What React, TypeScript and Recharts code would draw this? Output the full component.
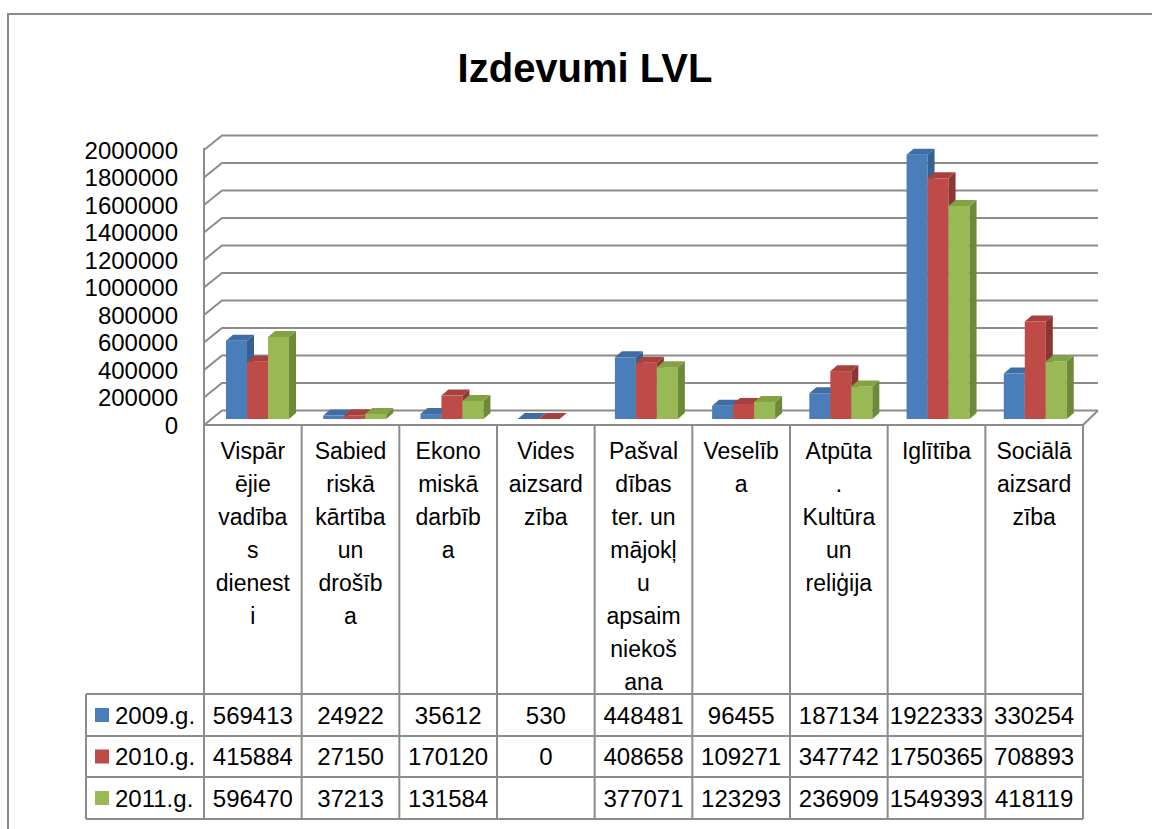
import React from "react"
import { BarChart, Bar, XAxis, YAxis, CartesianGrid } from "recharts"

// category labels as they wrap in the original table cells
const categoryLines: string[][] = [
  ["Vispār", "ējie", "vadība", "s", "dienest", "i"],
  ["Sabied", "riskā", "kārtība", "un", "drošīb", "a"],
  ["Ekono", "miskā", "darbīb", "a"],
  ["Vides", "aizsard", "zība"],
  ["Pašval", "dības", "ter. un", "mājokļ", "u", "apsaim", "niekoš", "ana"],
  ["Veselīb", "a"],
  ["Atpūta", ".", "Kultūra", "un", "reliģija"],
  ["Iglītība"],
  ["Sociālā", "aizsard", "zība"],
]
const categories = categoryLines.map((l) => l.join(""))

const seriesNames = ["2009.g.", "2010.g.", "2011.g."]
const values2009 = [569413, 24922, 35612, 530, 448481, 96455, 187134, 1922333, 330254]
const values2010 = [415884, 27150, 170120, 0, 408658, 109271, 347742, 1750365, 708893]
const values2011: (number | null)[] = [596470, 37213, 131584, null, 377071, 123293, 236909, 1549393, 418119]
const yTicks = [0, 200000, 400000, 600000, 800000, 1000000, 1200000, 1400000, 1600000, 1800000, 2000000]

const seriesKeys = ["y2009", "y2010", "y2011"]
const seriesData = [values2009, values2010, values2011]
const colors = [
  { front: "#4a7ebb", side: "#36608f", top: "#3f6ea6" },
  { front: "#be4b48", side: "#8c3532", top: "#a8403d" },
  { front: "#98b954", side: "#6d8a38", top: "#84a244" },
]

const data = categories.map((c, i) => ({
  name: c,
  y2009: values2009[i],
  y2010: values2010[i],
  y2011: values2011[i],
}))

const FONT = "'Liberation Sans', Arial, sans-serif"
const GRID = "#8c8c8c"
const DX = 7
const DY = -6
const TABLE_L = 204
const TABLE_R = 1083
const COL_W = (TABLE_R - TABLE_L) / categories.length
const ROW_Y = [694, 736, 777, 819]

function Bar3D(props: any, key: string, color: typeof colors[0]) {
  const { x, y, width, height, payload } = props
  if (payload[key] == null) return <g />
  const h = Math.max(height, 0)
  return (
    <g>
      <rect x={x} y={y} width={width} height={h} fill={color.front} />
      <path
        d={`M${x + width},${y} L${x + width + DX},${y + DY} L${x + width + DX},${y + h + DY} L${x + width},${y + h} Z`}
        fill={color.side}
      />
      <path
        d={`M${x},${y} L${x + DX},${y + DY} L${x + width + DX},${y + DY} L${x + width},${y} Z`}
        fill={color.top}
      />
    </g>
  )
}

function gridLine(props: any) {
  const { x1, x2, y1, index } = props
  return (
    <path
      key={`grid-${index}-${y1}`}
      d={`M${x1 - 5},${y1 + 6} L${x1 + 13},${y1 - 8.5} L${x2 + 14},${y1 - 8.5}`}
      fill="none"
      stroke={GRID}
      strokeWidth={2}
    />
  )
}

function YTick(props: any) {
  const { y, payload } = props
  return (
    <text x={178} y={y + 6} textAnchor="end" dominantBaseline="central" fontSize={24} fontFamily={FONT} fill="#000">
      {payload.value}
    </text>
  )
}

function XTick(props: any) {
  const { index } = props
  const cx = TABLE_L + (index + 0.5) * COL_W
  return (
    <g>
      {categoryLines[index].map((line, j) => (
        <text key={j} x={cx} y={459 + j * 33} textAnchor="middle" fontSize={23} fontFamily={FONT} fill="#000">
          {line}
        </text>
      ))}
      {seriesData.map((vals, r) => (
        <text
          key={`v${r}`}
          x={cx}
          y={(ROW_Y[r] + ROW_Y[r + 1]) / 2}
          textAnchor="middle"
          dominantBaseline="central"
          fontSize={24}
          fontFamily={FONT}
          fill="#000"
        >
          {vals[index] == null ? "" : vals[index]}
        </text>
      ))}
    </g>
  )
}

function TableOverlay() {
  const edges = Array.from({ length: categories.length + 1 }, (_, i) => TABLE_L + i * COL_W)
  return (
    <svg width={1152} height={829} style={{ position: "absolute", left: 0, top: 0, pointerEvents: "none" }}>
      <rect x={8} y={14} width={1160} height={830} fill="none" stroke={GRID} strokeWidth={2} />
      {edges.map((ex, i) => (
        <line key={i} x1={ex} x2={ex} y1={i === 0 ? 148 : 425} y2={ROW_Y[3]} stroke={GRID} strokeWidth={2} />
      ))}
      <line x1={TABLE_L} x2={TABLE_R} y1={425} y2={425} stroke={GRID} strokeWidth={2} />
      <line x1={TABLE_R} x2={1098} y1={425} y2={410.5} stroke={GRID} strokeWidth={2} />
      {ROW_Y.map((ry, i) => (
        <line key={`r${i}`} x1={86} x2={TABLE_R} y1={ry} y2={ry} stroke={GRID} strokeWidth={2} />
      ))}
      <line x1={86} x2={86} y1={ROW_Y[0]} y2={ROW_Y[3]} stroke={GRID} strokeWidth={2} />
      {seriesNames.map((n, r) => {
        const cy = (ROW_Y[r] + ROW_Y[r + 1]) / 2
        return (
          <g key={n}>
            <rect x={95} y={cy - 7} width={14} height={14} fill={colors[r].front} />
            <text x={115} y={cy} dominantBaseline="central" fontSize={24} fontFamily={FONT} fill="#000">
              {n}
            </text>
          </g>
        )
      })}
      <text x={585} y={82} textAnchor="middle" fontSize={40} fontWeight="bold" fontFamily={FONT} fill="#000">
        Izdevumi LVL
      </text>
    </svg>
  )
}

export default function App() {
  return (
    <div style={{ position: "absolute", left: 0, top: 0, width: 1152, height: 829, background: "#fff" }}>
      <BarChart
        width={1152}
        height={829}
        data={data}
        margin={{ top: 144, right: 68, bottom: 10, left: 0 }}
        barGap={0}
        barSize={21}
      >
        <CartesianGrid vertical={false} horizontal={gridLine} />
        <YAxis
          width={209}
          domain={[0, 2000000]}
          ticks={yTicks}
          axisLine={false}
          tickLine={false}
          tick={YTick}
          interval={0}
        />
        <XAxis dataKey="name" height={400} axisLine={false} tickLine={false} tick={XTick} interval={0} />
        {seriesKeys.map((k, i) => (
          <Bar
            key={k}
            dataKey={k}
            isAnimationActive={false}
            shape={(p: any) => Bar3D(p, k, colors[i])}
          />
        ))}
      </BarChart>
      <TableOverlay />
    </div>
  )
}
